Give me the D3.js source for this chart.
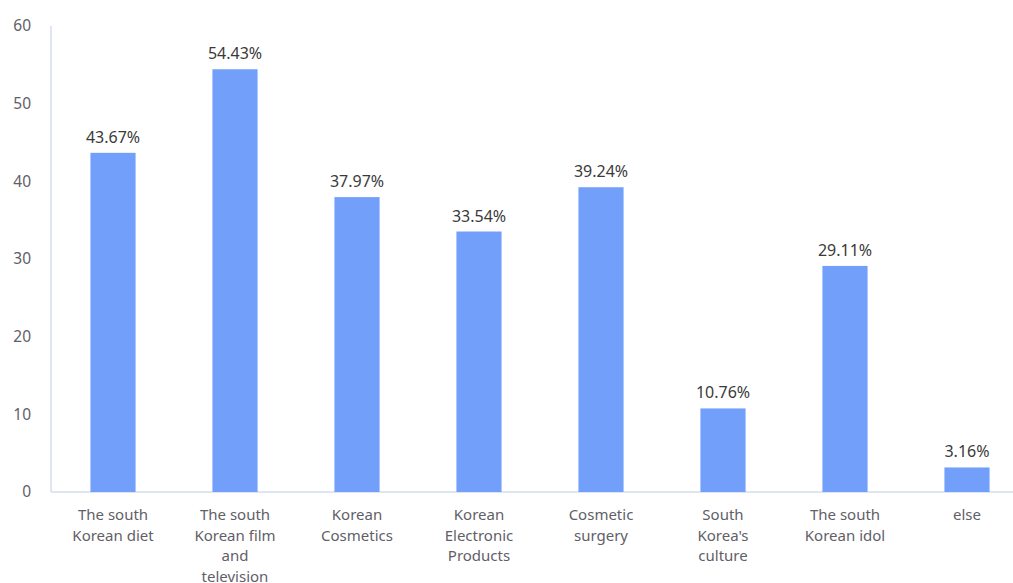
<!DOCTYPE html>
<html><head><meta charset="utf-8">
<script src="https://cdn.jsdelivr.net/npm/d3@7"></script>
<style>body{margin:0;background:#fff;}svg{display:block;}</style>
</head><body>
<svg id="chart" width="1013" height="583"></svg>
<script>
const categories = [
  ["The south","Korean diet"],
  ["The south","Korean film","and","television"],
  ["Korean","Cosmetics"],
  ["Korean","Electronic","Products"],
  ["Cosmetic","surgery"],
  ["South","Korea's","culture"],
  ["The south","Korean idol"],
  ["else"]
];
const values = [43.67, 54.43, 37.97, 33.54, 39.24, 10.76, 29.11, 3.16];
const yTicks = [0, 10, 20, 30, 40, 50, 60];

(function() {
const svg = d3.select("#chart");
const mLeft = 51, mTop = 26, mBottom = 492;
const x = d3.scaleBand().domain(d3.range(values.length)).range([mLeft + 1, mLeft + 1 + 8 * 122]).paddingInner(0.63).paddingOuter(0.315);
const y = d3.scaleLinear().domain([0, 60]).range([mBottom, mTop]);
const font = "'Noto Sans', 'DejaVu Sans', sans-serif";

svg.append("line").attr("x1", mLeft).attr("x2", mLeft).attr("y1", y(60)).attr("y2", mBottom)
  .attr("stroke", "#d5ddef").attr("stroke-width", 1.5);
svg.append("line").attr("x1", mLeft).attr("x2", 1013).attr("y1", mBottom).attr("y2", mBottom)
  .attr("stroke", "#d5ddef").attr("stroke-width", 1.5);

svg.append("g").selectAll("text").data(yTicks).join("text")
  .attr("x", 31).attr("y", d => y(d)).attr("dy", "0.35em")
  .attr("text-anchor", "end").attr("font-family", font).attr("font-size", 15.5)
  .attr("fill", "#5f6068").text(d => d);

svg.append("g").selectAll("rect").data(values).join("rect")
  .attr("x", (d, i) => x(i)).attr("width", x.bandwidth())
  .attr("y", d => y(d)).attr("height", d => mBottom - y(d))
  .attr("fill", "#719ffa");

svg.append("g").selectAll("text").data(values).join("text")
  .attr("x", (d, i) => x(i) + x.bandwidth() / 2).attr("y", d => y(d) - 10)
  .attr("text-anchor", "middle").attr("font-family", font).attr("font-size", 16)
  .attr("fill", "#3a3a3a").text(d => d.toFixed(2) + "%");

const cg = svg.append("g").selectAll("text").data(categories).join("text")
  .attr("x", (d, i) => x(i) + x.bandwidth() / 2).attr("y", 520)
  .attr("text-anchor", "middle").attr("font-family", font).attr("font-size", 15)
  .attr("fill", "#5f6068");
cg.each(function(lines, i) {
  d3.select(this).selectAll("tspan").data(lines).join("tspan")
    .attr("x", x(i) + x.bandwidth() / 2).attr("dy", (l, j) => j === 0 ? 0 : 20.7).text(l => l);
});
})();
</script>
</body></html>
